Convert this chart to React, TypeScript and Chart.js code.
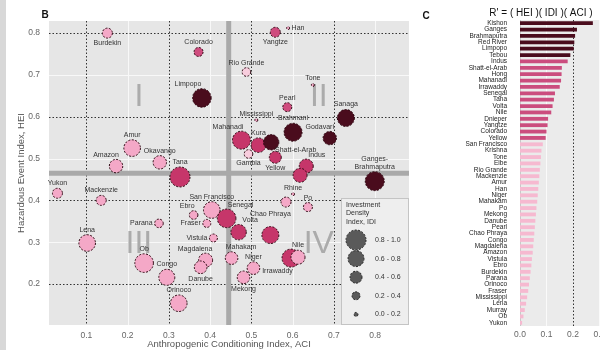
import React, { useEffect, useRef } from 'react';
import { Chart, registerables } from 'chart.js';
Chart.register(...registerables);

// ---------- Panel B data ----------
const rivers = ['Burdekin','Colorado','Limpopo','Amur','Amazon','Okavango','Tana','Yangtze','Han','Rio Grande',
  'Tone','Pearl','Mississippi','Brahmani','Sanaga','Godavari','Mahanadi','Kura','Shatt-el-Arab','Gambia',
  'Yellow','Indus','Krishna','Ganges-Brahmaputra','Yukon','Mackenzie','Parana','Lena','Ob','Congo',
  'Orinoco','San Francisco','Ebro','Senegal','Fraser','Volta','Vistula','Chao Phraya','Mahakam','Magdalena',
  'Danube','Niger','Mekong','Irrawaddy','Nile','Rhine','Po','Elbe'];
const aci = [0.151,0.372,0.380,0.211,0.172,0.278,0.327,0.558,0.589,0.488,
  0.649,0.587,0.512,0.601,0.729,0.690,0.476,0.517,0.548,0.493,
  0.558,0.633,0.618,0.799,0.030,0.136,0.276,0.102,0.240,0.295,
  0.324,0.404,0.360,0.440,0.392,0.469,0.408,0.546,0.452,0.389,
  0.377,0.505,0.481,0.596,0.613,0.601,0.637,0.584];
const hei = [0.800,0.755,0.645,0.525,0.482,0.491,0.456,0.802,0.812,0.707,
  0.676,0.623,0.592,0.563,0.597,0.549,0.544,0.532,0.539,0.511,
  0.503,0.482,0.460,0.446,0.417,0.400,0.345,0.298,0.250,0.216,
  0.154,0.377,0.365,0.357,0.345,0.324,0.310,0.317,0.262,0.257,
  0.240,0.238,0.216,0.262,0.264,0.415,0.384,0.396];
const idi = [0.40,0.35,0.83,0.73,0.57,0.57,0.90,0.40,0.05,0.33,
  0.05,0.35,0.05,0.80,0.75,0.57,0.80,0.63,0.67,0.33,
  0.50,0.60,0.60,0.85,0.40,0.40,0.33,0.73,0.83,0.70,
  0.73,0.73,0.33,0.83,0.30,0.67,0.30,0.75,0.53,0.60,
  0.53,0.53,0.53,0.80,0.60,0.05,0.35,0.40];
const riskClass = ['L','M','D','L','L','L','C','M','L','V',
  'L','M','L','D','D','D','C','C','D','V',
  'C','C','C','D','L','L','L','L','L','L',
  'L','L','L','C','L','C','L','C','L','L',
  'L','L','L','C','L','L','L','L'];
const labelAnchor = ['b','t','tl','t','tl','t','t','b','r','t',
  't','t','t','t','t','tl','tl','t','br','b',
  'b','tr','n','t2','t','t','l','t','t','t',
  't','t','tl','tr','l','tr','l','tt','tr','tl',
  'b','t','b','bl','t','t','t','n'];

const xTicks = [0.1,0.2,0.3,0.4,0.5,0.6,0.7,0.8];
const yTicks = [0.2,0.3,0.4,0.5,0.6,0.7,0.8];
const xRange = [0.0095, 0.882];
const yRange = [0.102, 0.829];
const quadrantSplitX = 0.445;
const quadrantSplitY = 0.465;
const quadrantNames = ['I','II','III','IV'];
const idiClasses = ['0.8 - 1.0','0.6 - 0.8','0.4 - 0.6','0.2 - 0.4','0.0 - 0.2'];
const idiClassMid = [0.9,0.7,0.5,0.3,0.1];
const legendTitle = ['Investment','Density','Index, IDI'];

// ---------- Panel C data ----------
const barRivers = ['Kishon','Ganges','Brahmaputra','Red River','Limpopo','Tebou','Indus','Shatt-el-Arab','Hong','Mahanadi',
  'Irrawaddy','Senegal','Tana','Volta','Nile','Dnieper','Yangtze','Colorado','Yellow','San Francisco',
  'Krishna','Tone','Elbe','Rio Grande','Mackenzie','Amur','Han','Niger','Mahakam','Po',
  'Mekong','Danube','Pearl','Chao Phraya','Congo','Magdalena','Amazon','Vistula','Ebro','Burdekin',
  'Parana','Orinoco','Fraser','Mississippi','Lena','Murray','Ob','Yukon'];
const barValues = [0.275,0.215,0.208,0.205,0.203,0.19,0.18,0.158,0.157,0.155,
  0.15,0.132,0.128,0.123,0.118,0.106,0.104,0.1,0.097,0.086,
  0.081,0.079,0.077,0.075,0.073,0.071,0.069,0.067,0.065,0.062,
  0.06,0.058,0.056,0.054,0.052,0.05,0.048,0.045,0.043,0.04,
  0.037,0.034,0.031,0.027,0.023,0.018,0.013,0.008];
const barClass = ['D','D','D','D','D','D','C','C','C','C','C','C','C','C','C','C','C','C','C',
  'L','L','L','L','L','L','L','L','L','L','L','L','L','L','L','L','L','L','L','L','L','L','L','L','L','L','L','L','L'];
const barTicks = [0, 0.1, 0.2, 0.3];
const barRange = [0, 0.302];
const barTitle = "R' = ( HEI )( IDI )( ACI )";

const bubbleColor: Record<string, string> = { D: '#4a0c1d', C: '#c6366a', M: '#cf4c7e', L: '#f4a8c7', V: '#f8cddd' };
const barColor: Record<string, string> = { D: '#4a0c1d', C: '#cb4d7e', L: '#f6b9d0' };
const SANS = "'Liberation Sans', Arial, sans-serif";
const radiusOf = (v: number) => 1 + 10 * v;

function drawBubbleLabel(ctx: CanvasRenderingContext2D, text: string, cx: number, cy: number, r: number, a: string) {
  if (a === 'n') return;
  let x = cx, y = cy, align: CanvasTextAlign = 'center', base: CanvasTextBaseline = 'bottom';
  if (a === 't') { y = cy - r - 1.5; }
  else if (a === 'tt') { y = cy - r - 9; }
  else if (a === 'b') { y = cy + r + 1.5; base = 'top'; }
  else if (a === 'l') { x = cx - r - 2; align = 'right'; base = 'middle'; }
  else if (a === 'r') { x = cx + r + 2; align = 'left'; base = 'middle'; }
  else if (a === 'tl') { x = cx - 1.5 * r; y = cy - r - 1; }
  else if (a === 'tr') { x = cx + 1.5 * r; y = cy - r - 1; }
  else if (a === 'bl') { x = cx - 1.5 * r; y = cy + r; base = 'top'; }
  else if (a === 'br') { x = cx + 0.5 * r; y = cy + 0.5 * r; align = 'left'; base = 'top'; }
  ctx.textAlign = align; ctx.textBaseline = base;
  if (a === 't2') {
    const i = text.indexOf('-');
    const l1 = text.slice(0, i + 1), l2 = text.slice(i + 1);
    ctx.fillText(l2, cx, cy - r - 1.5);
    ctx.fillText(l1, cx, cy - r - 9.5);
    return;
  }
  ctx.fillText(text, x, y);
}

const scatterDecor = {
  id: 'scatterDecor',
  beforeDatasetsDraw(chart: any) {
    const { ctx, chartArea: a, scales: { x, y } } = chart;
    ctx.save();
    ctx.fillStyle = '#e6e6e6';
    ctx.fillRect(a.left, a.top, a.right - a.left, a.bottom - a.top);
    // grid
    xTicks.forEach(v => {
      const px = Math.round(x.getPixelForValue(v)) + 0.5;
      const major = Math.round(v * 10) % 2 === 1;
      ctx.beginPath();
      ctx.lineWidth = 1;
      if (major) { ctx.strokeStyle = '#333'; ctx.setLineDash([1.5, 2]); }
      else { ctx.strokeStyle = '#f8f8f8'; ctx.setLineDash([]); }
      ctx.moveTo(px, a.top); ctx.lineTo(px, a.bottom); ctx.stroke();
    });
    yTicks.forEach(v => {
      const py = Math.round(y.getPixelForValue(v)) + 0.5;
      const major = Math.round(v * 10) % 2 === 0;
      ctx.beginPath();
      ctx.lineWidth = 1;
      if (major) { ctx.strokeStyle = '#333'; ctx.setLineDash([1.5, 2]); }
      else { ctx.strokeStyle = '#f8f8f8'; ctx.setLineDash([]); }
      ctx.moveTo(a.left, py); ctx.lineTo(a.right, py); ctx.stroke();
    });
    ctx.setLineDash([]);
    // quadrant dividers
    ctx.strokeStyle = '#a9a9a9';
    ctx.lineWidth = 5;
    const qx = x.getPixelForValue(quadrantSplitX), qy = y.getPixelForValue(quadrantSplitY);
    ctx.beginPath(); ctx.moveTo(qx, a.top); ctx.lineTo(qx, a.bottom); ctx.stroke();
    ctx.beginPath(); ctx.moveTo(a.left, qy); ctx.lineTo(a.right, qy); ctx.stroke();
    // quadrant names
    const xl = (xRange[0] + quadrantSplitX) / 2, xr = (quadrantSplitX + xRange[1]) / 2;
    const yt = (quadrantSplitY + yRange[1]) / 2, yb = (yRange[0] + quadrantSplitY) / 2 + 0.012;
    const pos = [[xl, yt], [xr, yt], [xl, yb], [xr, yb]];
    ctx.fillStyle = '#ababab';
    ctx.font = `32px ${SANS}`;
    ctx.textAlign = 'center'; ctx.textBaseline = 'middle';
    quadrantNames.forEach((n, i) => ctx.fillText(n, x.getPixelForValue(pos[i][0]), y.getPixelForValue(pos[i][1])));
    ctx.restore();
  },
  beforeDatasetDraw(chart: any) { chart.ctx.setLineDash([2, 1.5]); },
  afterDatasetDraw(chart: any) { chart.ctx.setLineDash([]); },
  afterDatasetsDraw(chart: any) {
    const { ctx, chartArea: a } = chart;
    const meta = chart.getDatasetMeta(0);
    ctx.save();
    ctx.fillStyle = '#333';
    ctx.font = `7px ${SANS}`;
    meta.data.forEach((el: any, i: number) => {
      drawBubbleLabel(ctx, rivers[i], el.x, el.y, el.options.radius, labelAnchor[i]);
    });
    // legend box
    const w = 68, h = 127;
    const lx = a.right - w, ly = a.bottom - h;
    ctx.fillStyle = '#eeeeee';
    ctx.strokeStyle = '#c4c4c4';
    ctx.lineWidth = 1;
    ctx.fillRect(lx, ly, w, h);
    ctx.strokeRect(lx + 0.5, ly + 0.5, w - 1, h - 1);
    ctx.fillStyle = '#333';
    ctx.font = `7px ${SANS}`;
    ctx.textAlign = 'left'; ctx.textBaseline = 'middle';
    legendTitle.forEach((t, i) => ctx.fillText(t, lx + 5, ly + 7 + i * 8.5));
    idiClasses.forEach((t, i) => {
      const cy = ly + 42 + i * 18.6;
      ctx.beginPath();
      ctx.fillStyle = '#5a5a5a';
      ctx.strokeStyle = '#222';
      ctx.setLineDash([2, 1.5]);
      ctx.arc(lx + 15, cy, radiusOf(idiClassMid[i]), 0, Math.PI * 2);
      ctx.fill(); ctx.stroke();
      ctx.setLineDash([]);
      ctx.fillStyle = '#333';
      ctx.fillText(t, lx + 34, cy);
    });
    // panel letter
    ctx.font = `bold 10px ${SANS}`;
    ctx.fillStyle = '#111';
    ctx.textAlign = 'center';
    ctx.fillText('B', 45, 15);
    ctx.restore();
  },
};

const barDecor = {
  id: 'barDecor',
  beforeDatasetsDraw(chart: any) {
    const { ctx, chartArea: a, scales: { x } } = chart;
    ctx.save();
    ctx.fillStyle = '#ebebeb';
    ctx.fillRect(a.left, a.top, a.right - a.left, a.bottom - a.top);
    ctx.strokeStyle = '#c8c8c8';
    ctx.lineWidth = 1;
    ctx.beginPath(); ctx.moveTo(a.left + 0.5, a.top); ctx.lineTo(a.left + 0.5, a.bottom); ctx.stroke();
    barTicks.forEach(v => {
      if (v === 0) return;
      const px = Math.round(x.getPixelForValue(v)) + 0.5;
      const major = Math.round(v * 10) === 2;
      ctx.beginPath();
      if (major) { ctx.strokeStyle = '#333'; ctx.setLineDash([1.5, 2]); }
      else { ctx.strokeStyle = '#fafafa'; ctx.setLineDash([]); }
      ctx.moveTo(px, a.top); ctx.lineTo(px, a.bottom); ctx.stroke();
    });
    ctx.restore();
  },
  afterDraw(chart: any) {
    const { ctx } = chart;
    ctx.save();
    ctx.fillStyle = '#111';
    ctx.font = `bold 10px ${SANS}`;
    ctx.textAlign = 'center'; ctx.textBaseline = 'middle';
    ctx.fillText('C', 6, 16);
    ctx.font = `10px ${SANS}`;
    ctx.fillText(barTitle, 121, 13);
    ctx.restore();
  },
};

const zeroPad = (s: any) => { s.paddingLeft = 0; s.paddingRight = 0; s.paddingTop = 0; s.paddingBottom = 0; };

export default function App() {
  const ref1 = useRef<HTMLCanvasElement>(null);
  const ref2 = useRef<HTMLCanvasElement>(null);
  useEffect(() => {
    const tickFont = { family: SANS, size: 8.5 };
    const c1 = new Chart(ref1.current as HTMLCanvasElement, {
      type: 'bubble',
      data: {
        datasets: [{
          data: rivers.map((_, i) => ({ x: aci[i], y: hei[i], r: radiusOf(idi[i]) })),
          backgroundColor: riskClass.map(c => bubbleColor[c]),
          borderColor: '#2e0812',
          borderWidth: 1,
        }],
      },
      options: {
        responsive: false,
        animation: false,
        events: [],
        layout: { padding: { left: 10, right: 9, top: 21, bottom: 0 } },
        plugins: { legend: { display: false }, tooltip: { enabled: false } },
        scales: {
          x: {
            type: 'linear', min: xRange[0], max: xRange[1],
            afterBuildTicks: (s: any) => { s.ticks = xTicks.map(v => ({ value: v })); },
            afterFit: (s: any) => { s.height = 25; zeroPad(s); },
            ticks: { font: tickFont, color: '#666', padding: 6, maxRotation: 0, callback: (v: any) => Number(v).toFixed(1) },
            grid: { display: false, drawTicks: false },
            border: { display: false },
            title: { display: true, text: 'Anthropogenic Conditioning Index, ACI', font: { family: SANS, size: 9.5 }, color: '#555', padding: { top: 0, bottom: 0 } },
          },
          y: {
            type: 'linear', min: yRange[0], max: yRange[1],
            afterBuildTicks: (s: any) => { s.ticks = yTicks.map(v => ({ value: v })); },
            afterFit: (s: any) => { s.width = 39; zeroPad(s); },
            ticks: { font: tickFont, color: '#666', padding: 9, callback: (v: any) => Number(v).toFixed(1) },
            grid: { display: false, drawTicks: false },
            border: { display: false },
            title: { display: true, text: 'Hazardous Event Index, HEI', font: { family: SANS, size: 9.5 }, color: '#555', padding: { top: 6, bottom: 0 } },
          },
        },
      } as any,
      plugins: [scatterDecor],
    });
    const c2 = new Chart(ref2.current as HTMLCanvasElement, {
      type: 'bar',
      data: {
        labels: barRivers,
        datasets: [{
          data: barValues,
          backgroundColor: barClass.map(c => barColor[c]),
          barPercentage: 0.6,
          categoryPercentage: 1,
        }],
      },
      options: {
        indexAxis: 'y',
        responsive: false,
        animation: false,
        events: [],
        layout: { padding: { left: 0, right: 0, top: 20, bottom: 0 } },
        plugins: { legend: { display: false }, tooltip: { enabled: false } },
        scales: {
          x: {
            type: 'linear', min: barRange[0], max: barRange[1],
            afterBuildTicks: (s: any) => { s.ticks = barTicks.map(v => ({ value: v })); },
            afterFit: (s: any) => { s.height = 24; zeroPad(s); },
            ticks: { font: tickFont, color: '#666', padding: 4, maxRotation: 0, callback: (v: any) => Number(v).toFixed(1) },
            grid: { display: false, drawTicks: false },
            border: { display: false },
          },
          y: {
            afterFit: (s: any) => { s.width = 100; zeroPad(s); },
            ticks: { font: { family: SANS, size: 6.5 }, color: '#222', padding: 13, autoSkip: false },
            grid: { display: false, drawTicks: false },
            border: { display: false },
          },
        },
      } as any,
      plugins: [barDecor],
    });
    return () => { c1.destroy(); c2.destroy(); };
  }, []);
  return (
    <div style={{ position: 'fixed', left: 0, top: 0, width: 600, height: 350, background: '#fff', overflow: 'hidden' }}>
      <canvas ref={ref1} width={420} height={350} style={{ position: 'absolute', left: 0, top: 0, width: 420, height: 350 }} />
      <canvas ref={ref2} width={180} height={350} style={{ position: 'absolute', left: 420, top: 0, width: 180, height: 350 }} />
      <div style={{ position: 'absolute', left: 0, top: 0, width: 6, height: 350, background: '#d8d8d8' }} />
    </div>
  );
}
